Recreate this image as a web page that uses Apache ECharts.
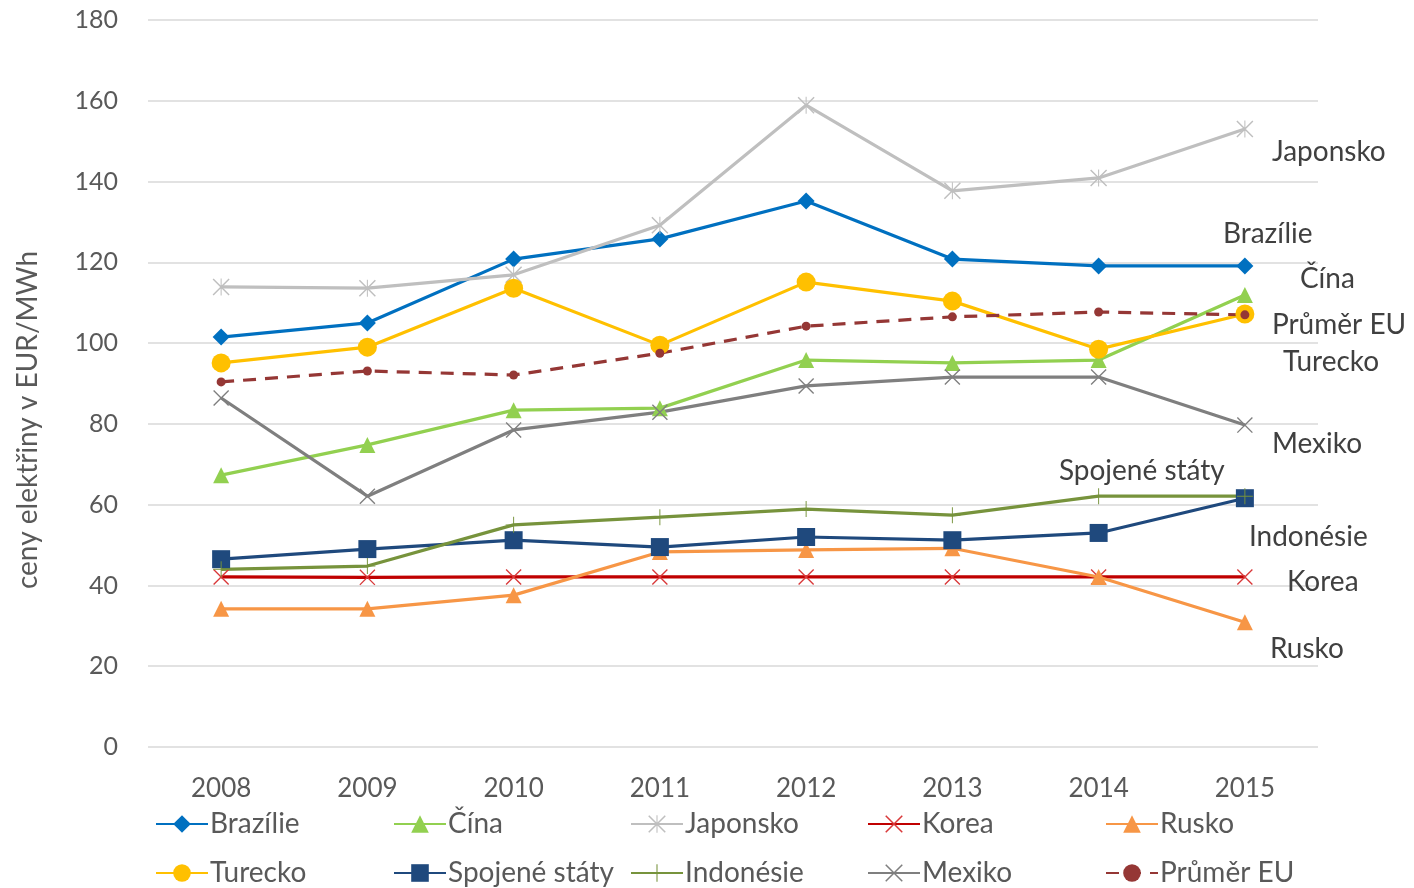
<!DOCTYPE html>
<html>
<head>
<meta charset="utf-8">
<script src="https://cdn.jsdelivr.net/npm/echarts@6/dist/echarts.min.js"></script>
<style>
  html, body { margin: 0; padding: 0; background: #ffffff; }
  #chart { width: 1414px; height: 888px; }
</style>
</head>
<body>
<div id="chart"></div>
<script>
// Ceny elektřiny (EUR/MWh) ve vybraných zemích, 2008–2015
const years = ['2008', '2009', '2010', '2011', '2012', '2013', '2014', '2015'];
const yTicks = [0, 20, 40, 60, 80, 100, 120, 140, 160, 180];
const yTitle = 'ceny elektřiny v EUR/MWh';

const brazilie     = [101.5, 105.0, 120.8, 125.8, 135.2, 120.8, 119.1, 119.1];
const cina         = [67.3, 74.8, 83.4, 83.9, 95.8, 95.1, 95.8, 111.9];
const japonsko     = [113.9, 113.6, 116.9, 129.2, 158.9, 137.7, 140.9, 153.0];
const korea        = [42.1, 42.0, 42.1, 42.1, 42.1, 42.1, 42.1, 42.1];
const rusko        = [34.2, 34.2, 37.6, 48.3, 48.8, 49.2, 42.1, 30.9];
const turecko      = [95.1, 99.0, 113.6, 99.5, 115.1, 110.4, 98.5, 107.2];
const spojeneStaty = [46.5, 49.0, 51.2, 49.5, 52.0, 51.2, 53.0, 61.6];
const indonesie    = [44.0, 44.8, 55.0, 56.9, 58.9, 57.4, 62.1, 62.1];
const mexiko       = [86.4, 62.1, 78.5, 82.9, 89.4, 91.6, 91.6, 79.7];
const prumerEU     = [90.4, 93.1, 92.1, 97.5, 104.2, 106.5, 107.7, 107.0];

const FONT = 'Lato';

// thin stroke-like markers built as filled paths
const SYM_X = 'path://M0,1.2L1.2,0L20,18.8L18.8,20ZM18.8,0L20,1.2L1.2,20L0,18.8Z';
const SYM_PLUS = 'path://M9.4,0H10.6V20H9.4ZM0,9.4H20V10.6H0Z';
const SYM_STAR = 'path://M0,1.2L1.2,0L20,18.8L18.8,20ZM18.8,0L20,1.2L1.2,20L0,18.8ZM9.4,0H10.6V20H9.4Z';

const defs = [
  { name: 'Brazílie', data: brazilie, color: '#0070C0', symbol: 'diamond', size: 17, off: [-22, -32] },
  { name: 'Čína', data: cina, color: '#92D050', symbol: 'triangle', size: 16, off: [55, -16] },
  { name: 'Japonsko', data: japonsko, color: '#BFBFBF', symbol: SYM_STAR, size: 17, off: [27, 23] },
  { name: 'Korea', data: korea, color: '#C00000', symbolColor: '#D9393A', symbol: SYM_X, size: 16, off: [42, 5] },
  { name: 'Rusko', data: rusko, color: '#F79646', symbol: 'triangle', size: 16, off: [25, 27] },
  { name: 'Turecko', data: turecko, color: '#FFC000', symbol: 'circle', size: 19, off: [38, 48] },
  { name: 'Spojené státy', data: spojeneStaty, color: '#1F497D', symbol: 'rect', size: 18, off: [-186, -27] },
  { name: 'Indonésie', data: indonesie, color: '#77933C', symbol: SYM_PLUS, size: 16, off: [4, 41] },
  { name: 'Mexiko', data: mexiko, color: '#7F7F7F', symbol: SYM_X, size: 16, off: [27, 19] },
  { name: 'Průměr EU', data: prumerEU, color: '#953735', symbol: 'circle', size: 9, off: [27, 10], dashed: true }
];

const series = defs.map(d => ({
  name: d.name,
  type: 'line',
  data: d.data.map((v, i) => i === d.data.length - 1 ? {
    value: v,
    label: {
      show: true,
      position: 'inside',
      align: 'left',
      verticalAlign: 'middle',
      offset: d.off,
      formatter: d.name,
      fontFamily: FONT,
      fontSize: 28,
      color: '#404040'
    }
  } : v),
  symbol: d.symbol,
  symbolSize: d.size,
  showSymbol: true,
  lineStyle: { color: d.color, width: 3.2, type: d.dashed ? [13, 9] : 'solid' },
  itemStyle: { color: d.symbolColor || d.color, borderWidth: 0 },
  emphasis: { disabled: true },
  animation: false
}));

// legend laid out as a 5-column grid of two rows
const legendCols = [155, 393, 630, 867, 1105];
const legendRows = [810, 859];
const legends = defs.map((d, i) => ({
  data: [d.name],
  left: legendCols[i % 5],
  top: legendRows[Math.floor(i / 5)],
  padding: 0,
  itemWidth: 52,
  itemHeight: 22,
  itemGap: 0,
  textStyle: { fontFamily: FONT, fontSize: 28, color: '#595959', padding: [0, 0, 0, -3] },
  selectedMode: false
}));

const chart = echarts.init(document.getElementById('chart'), null, { renderer: 'canvas' });
chart.setOption({
  backgroundColor: '#ffffff',
  animation: false,
  grid: { left: 148, right: 96, top: 20, bottom: 141 },
  legend: legends,
  graphic: [{
    type: 'text',
    x: 28,
    y: 420,
    rotation: Math.PI / 2,
    style: {
      text: yTitle,
      fontFamily: FONT,
      fontSize: 28,
      fill: '#595959',
      align: 'center',
      verticalAlign: 'middle'
    }
  }],
  xAxis: {
    type: 'category',
    data: years,
    boundaryGap: true,
    axisLine: { show: false },
    axisTick: { show: false },
    axisLabel: { fontFamily: FONT, fontSize: 26, color: '#595959', margin: 29 }
  },
  yAxis: {
    type: 'value',
    min: yTicks[0],
    max: yTicks[yTicks.length - 1],
    interval: yTicks[1] - yTicks[0],
    axisLine: { show: false },
    axisTick: { show: false },
    axisLabel: { fontFamily: FONT, fontSize: 25, color: '#595959', margin: 30 },
    splitLine: { lineStyle: { color: '#D9D9D9', width: 1.5 } }
  },
  series: series
});
</script>
</body>
</html>
